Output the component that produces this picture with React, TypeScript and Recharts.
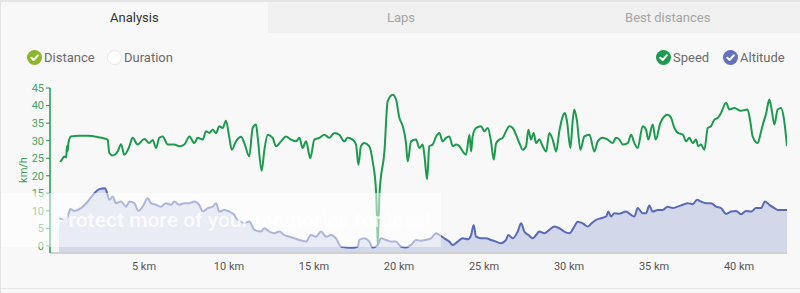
import React from "react";
import { Area, ComposedChart, Line, XAxis, YAxis } from "recharts";

// speed samples (km along the route, km/h)
const speedKm = [
  0.08, 0.2, 0.31, 0.42, 0.47, 0.51, 0.56, 0.71, 1.2, 1.69, 2.3, 2.86, 2.96, 3.16, 3.45, 3.65, 3.84,
  4.14, 4.33, 4.63, 5.02, 5.31, 5.51, 5.71, 5.9, 6.1, 6.39, 6.78, 7.08, 7.37, 7.67, 7.96, 8.16, 8.45,
  8.65, 8.84, 9.04, 9.24, 9.43, 9.63, 9.82, 10.02, 10.16, 10.41, 10.71, 10.9, 11.19, 11.39, 11.59,
  11.69, 11.92, 12.08, 12.28, 12.57, 12.76, 13.06, 13.35, 13.65, 13.94, 14.14, 14.33, 14.53, 14.78,
  15.02, 15.31, 15.61, 15.9, 16.2, 16.49, 16.78, 16.98, 17.27, 17.47, 17.61, 17.76, 17.96, 18.25,
  18.45, 18.65, 18.72, 18.75, 18.8, 18.86, 19.14, 19.33, 19.63, 19.82, 20.02, 20.22, 20.41, 20.51,
  20.71, 21.0, 21.2, 21.39, 21.49, 21.65, 21.78, 21.98, 22.18, 22.37, 22.57, 22.76, 22.96, 23.16,
  23.35, 23.55, 23.75, 23.94, 24.14, 24.24, 24.33, 24.53, 24.82, 25.02, 25.22, 25.41, 25.57, 25.71,
  25.9, 26.1, 26.29, 26.49, 26.69, 26.88, 27.08, 27.28, 27.47, 27.61, 27.76, 27.92, 28.06, 28.25,
  28.45, 28.65, 28.84, 29.04, 29.24, 29.43, 29.63, 29.76, 29.88, 30.08, 30.22, 30.31, 30.47, 30.67,
  30.9, 31.2, 31.49, 31.69, 31.98, 32.27, 32.57, 32.76, 32.96, 33.16, 33.45, 33.65, 33.84, 34.04,
  34.33, 34.53, 34.66, 34.92, 35.1, 35.37, 35.6, 35.8, 36.0, 36.2, 36.4, 36.7, 36.88, 37.08, 37.27,
  37.47, 37.6, 37.76, 37.96, 38.16, 38.35, 38.55, 38.75, 38.94, 39.24, 39.43, 39.72, 40.1, 40.5,
  40.66, 40.8, 41.1, 41.25, 41.4, 41.6, 41.78, 41.9, 42.08, 42.27, 42.47, 42.63, 42.82,
];
const speedKmh = [
  23.9, 24.8, 25.5, 25.2, 28.5, 27.0, 29.6, 31.2, 31.4, 31.4, 31.0, 30.3, 26.5, 25.8, 26.9, 29.0, 26.0,
  28.4, 30.8, 28.9, 30.5, 29.3, 30.2, 27.9, 30.8, 31.2, 28.9, 28.9, 28.4, 28.9, 31.2, 29.3, 30.8, 30.3,
  32.7, 32.2, 33.1, 32.2, 34.1, 33.6, 35.7, 30.8, 27.4, 29.8, 31.1, 29.3, 25.5, 33.6, 34.6,
  30.8, 21.4, 27.4, 31.7, 30.8, 28.4, 29.8, 31.2, 30.3, 29.8, 30.8, 27.9, 29.8, 25.0,
  30.3, 30.8, 31.7, 30.8, 32.2, 31.7, 29.8, 30.8, 30.3, 28.9, 23.1, 28.4, 29.3, 28.4,
  24.1, 15.5, 5.0, 0.5, 8.0, 15.5, 26.9, 41.2, 43.1, 41.8, 36.5, 34.1, 29.3, 24.1,
  29.8, 30.3, 27.9, 28.9, 26.0, 19.0, 28.4, 28.9, 31.2, 32.2, 29.8, 30.8, 31.2, 28.4,
  28.9, 28.4, 26.9, 26.0, 31.7, 26.9, 31.2, 33.6, 34.1, 32.7, 33.6, 29.8, 24.6, 29.3,
  30.3, 30.8, 32.7, 34.1, 33.6, 31.7, 29.3, 27.4, 28.4, 33.1, 30.3, 32.2, 29.3, 30.3,
  28.4, 26.9, 32.2, 30.3, 26.9, 32.7, 36.9, 37.9, 35.5, 27.9, 36.0, 38.9, 35.5, 27.4,
  31.2, 31.7, 26.9, 29.8, 30.8, 30.3, 29.3, 30.8, 30.3, 28.9, 29.3, 31.7, 29.3, 27.9,
  34.1, 33.1, 30.3, 34.6, 30.3, 35.0, 36.9, 37.4, 36.5, 33.6, 32.2, 31.7, 29.8, 30.8, 29.3,
  30.3, 28.4, 28.9, 27.4, 33.6, 34.1, 36.0, 36.5, 37.9, 40.8, 38.9, 39.3, 38.5, 38.9,
  35.5, 31.2, 29.3, 31.7, 34.6, 37.9, 41.7, 39.3, 34.6, 38.9, 39.3, 36.5, 28.4,
];

// altitude samples (km along the route, m)
const altKm = [
  0, 0.31, 0.51, 0.67, 0.9, 1.29, 1.69, 2.08, 2.37, 2.71, 2.8, 2.96, 3.16, 3.35, 3.65, 3.94, 4.14,
  4.43, 4.67, 4.92, 5.22, 5.41, 5.71, 6.0, 6.29, 6.59, 6.78, 7.08, 7.37, 7.67, 7.96, 8.25, 8.45, 8.75,
  9.04, 9.24, 9.43, 9.73, 10.02, 10.31, 10.41, 10.61, 10.9, 11.19, 11.49, 11.88, 12.08, 12.37, 12.67,
  12.96, 13.25, 13.55, 13.84, 14.14, 14.53, 14.82, 15.12, 15.41, 15.71, 16.0, 16.29, 16.59, 16.88,
  17.27, 17.57, 17.67, 17.96, 18.25, 18.45, 18.75, 18.94, 19.24, 19.53, 19.82, 20.12, 20.41, 20.71,
  21.0, 21.29, 21.59, 21.88, 22.18, 22.37, 22.67, 22.96, 23.16, 23.45, 23.75, 24.04, 24.24, 24.39,
  24.53, 24.82, 25.12, 25.41, 25.71, 26.0, 26.29, 26.43, 26.69, 26.98, 27.18, 27.37, 27.61, 27.86,
  28.06, 28.25, 28.55, 28.84, 29.14, 29.43, 29.72, 30.02, 30.31, 30.51, 30.8, 31.1, 31.33, 31.59,
  31.88, 32.18, 32.31, 32.47, 32.67, 32.96, 33.06, 33.35, 33.65, 33.84, 34.04, 34.33, 34.53, 34.72,
  34.92, 35.22, 35.51, 35.8, 36.1, 36.39, 36.69, 36.98, 37.27, 37.53, 37.76, 38.06, 38.35, 38.65,
  38.94, 39.24, 39.53, 39.82, 40.12, 40.41, 40.71, 41.0, 41.29, 41.53, 41.78, 42.08, 42.27, 42.57,
  42.82,
];
const altM = [
  21.1, 20.0, 22.0, 26.7, 25.5, 27.2, 31.2, 36.3, 38.7, 39.3, 37.3, 32.2, 34.2, 30.2, 31.2, 28.1, 31.2,
  30.2, 25.5, 28.1, 33.2, 30.2, 29.2, 28.1, 30.2, 29.2, 31.2, 29.2, 30.2, 30.2, 31.2, 29.2, 25.1, 27.2,
  28.1, 30.2, 25.1, 26.1, 25.1, 23.1, 21.1, 19.6, 18.0, 19.1, 14.0, 13.0, 15.0, 13.0, 12.0,
  13.0, 10.9, 9.9, 8.9, 7.9, 6.9, 10.9, 9.9, 13.0, 9.9, 10.9, 8.9, 3.8, 3.4,
  3.2, 3.8, 7.9, 8.9, 6.9, 3.4, 4.9, 8.9, 7.9, 6.9, 6.9, 3.8, 3.4, 4.9,
  7.9, 7.4, 8.0, 8.9, 12.0, 10.9, 8.9, 6.9, 4.9, 6.9, 8.9, 8.3, 10.9, 17.0,
  9.9, 8.9, 8.9, 7.9, 6.9, 5.9, 7.9, 10.9, 8.9, 13.0, 18.0, 13.0, 10.9, 8.9,
  10.9, 13.0, 12.0, 14.0, 16.0, 15.0, 13.0, 12.0, 16.0, 19.0, 18.0, 16.0, 18.0, 20.1,
  21.1, 22.1, 25.1, 22.1, 24.1, 23.8, 24.1, 25.1, 23.1, 22.1, 27.2, 24.1, 24.1, 28.8,
  25.1, 26.1, 26.1, 28.1, 27.2, 28.1, 29.2, 30.2, 29.6, 32.2, 31.2, 30.2, 30.2, 28.1,
  27.2, 23.7, 25.1, 25.5, 23.5, 25.5, 25.1, 27.2, 27.2, 31.2, 29.2, 27.2, 26.1, 26.1,
  26.1,
];

const xTicks = [5, 10, 15, 20, 25, 30, 35, 40];
const speedTicks = [0, 5, 10, 15, 20, 25, 30, 35, 40, 45];
const tabs = ["Analysis", "Laps", "Best distances"];

const SPEED = "#1c9a4e";
const ALT = "#5b6ab6";

// merge both series on the distance axis
const rows = new Map<number, { km: number; speed?: number; alt?: number }>();
speedKm.forEach((km, i) => rows.set(km, { ...(rows.get(km) || { km }), speed: speedKmh[i] }));
altKm.forEach((km, i) => rows.set(km, { ...(rows.get(km) || { km }), alt: altM[i] }));
const data = Array.from(rows.values()).sort((a, b) => a.km - b.km);

const Check = ({ color, empty }: { color: string; empty?: boolean }) => (
  <svg width={15} height={15} style={{ display: "block" }}>
    <circle
      cx={7.5}
      cy={7.5}
      r={empty ? 7 : 7.5}
      fill={empty ? "#fff" : color}
      stroke={empty ? "#e6e6e6" : "none"}
    />
    {!empty && (
      <path
        d="M4.3 7.8 L6.6 10 L10.8 5.3"
        fill="none"
        stroke="#fff"
        strokeWidth={2}
        strokeLinecap="round"
        strokeLinejoin="round"
      />
    )}
  </svg>
);

const LegendItem = ({
  x,
  label,
  color,
  empty,
}: {
  x: number;
  label: string;
  color: string;
  empty?: boolean;
}) => (
  <div
    style={{
      position: "absolute",
      left: x,
      top: 50,
      display: "flex",
      alignItems: "center",
      gap: 2,
      fontSize: 13,
      color: "#6b6b6b",
    }}
  >
    <Check color={color} empty={empty} />
    <span>{label}</span>
  </div>
);

export default function App() {
  return (
    <div
      style={{
        position: "absolute",
        left: 0,
        top: 0,
        width: 800,
        height: 293,
        background: "#f8f8f8",
        fontFamily: "Roboto, 'Noto Sans', sans-serif",
        overflow: "hidden",
        borderLeft: "1px solid #e2e2e2",
        boxSizing: "border-box",
      }}
    >
      <div style={{ position: "absolute", left: 0, top: 0, width: 800, height: 2, background: "#e4e4e4" }} />
      {tabs.map((t, i) => (
        <div
          key={t}
          style={{
            position: "absolute",
            left: i * 266.7,
            top: 2,
            width: 266.7,
            height: 31,
            lineHeight: "31px",
            textAlign: "center",
            fontSize: 13,
            background: i === 0 ? "#f8f8f8" : "#f0f0f0",
            color: i === 0 ? "#333" : "#a5a5a5",
          }}
        >
          {t}
        </div>
      ))}

      <LegendItem x={26} label="Distance" color="#8cb42c" />
      <LegendItem x={106} label="Duration" color="#fff" empty />
      <LegendItem x={655} label="Speed" color={SPEED} />
      <LegendItem x={722} label="Altitude" color="#6571ba" />

      <div style={{ position: "absolute", left: 0, top: 0 }}>
        <ComposedChart
          width={800}
          height={293}
          data={data}
          margin={{ top: 88, right: 14, bottom: 10, left: 0 }}
        >
          <XAxis
            dataKey="km"
            type="number"
            domain={[-0.53, 42.82]}
            ticks={xTicks}
            allowDataOverflow
            tickFormatter={(v) => `${v} km`}
            tickLine={false}
            axisLine={{ stroke: "#d0d0d0", strokeWidth: 2 }}
            tick={{ fill: "#555", fontSize: 11 }}
            tickMargin={3}
            height={30}
          />
          <YAxis
            yAxisId="s"
            domain={[-2, 45]}
            ticks={speedTicks}
            interval={0}
            allowDataOverflow
            width={49}
            axisLine={{ stroke: SPEED, strokeWidth: 1.5 }}
            tickLine={{ stroke: SPEED }}
            tickSize={4}
            tickMargin={2}
            tick={{ fill: "#45a565", fontSize: 11 }}
          />
          <YAxis yAxisId="a" orientation="right" domain={[0, 100]} hide />
          <Area
            yAxisId="a"
            dataKey="alt"
            type="monotone"
            connectNulls
            stroke={ALT}
            strokeWidth={2}
            fill="#d2d7ea"
            fillOpacity={1}
            dot={false}
            activeDot={false}
            isAnimationActive={false}
          />
          <Line
            yAxisId="s"
            dataKey="speed"
            type="monotone"
            connectNulls
            stroke={SPEED}
            strokeWidth={2}
            dot={false}
            activeDot={false}
            isAnimationActive={false}
          />
        </ComposedChart>
      </div>

      <div
        style={{
          position: "absolute",
          left: 22,
          top: 170,
          transform: "translate(-50%, -50%) rotate(-90deg)",
          fontSize: 11,
          color: "#3f9f5f",
        }}
      >
        km/h
      </div>

      {/* image-host watermark band, text kept clear of the axis labels */}
      <div
        style={{
          position: "absolute",
          left: 0,
          top: 193,
          width: 440,
          height: 54,
          background: "rgba(255,255,255,0.5)",
        }}
      />
      <div
        style={{
          position: "absolute",
          left: 54,
          top: 193,
          height: 54,
          color: "rgba(255,255,255,0.75)",
          fontSize: 21,
          fontWeight: 600,
          lineHeight: "54px",
          whiteSpace: "nowrap",
        }}
      >
        Protect more of your memories for less!
      </div>

      <div style={{ position: "absolute", left: 0, top: 288, width: 800, height: 1, background: "#e6e6e6" }} />
    </div>
  );
}
